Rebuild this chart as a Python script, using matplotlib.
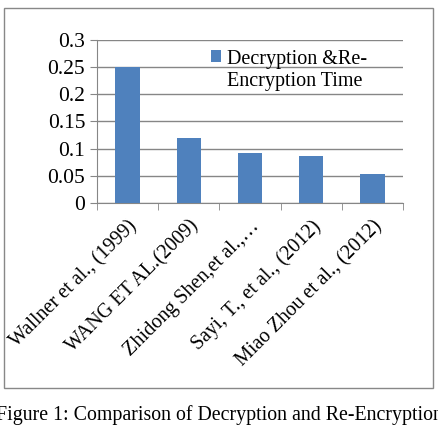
import numpy as np
import matplotlib.pyplot as plt
from matplotlib.patches import Rectangle
from matplotlib.container import BarContainer
from matplotlib.legend_handler import HandlerPatch

authors = ["Wallner et al., (1999)", "WANG ET AL.(2009)", "Zhidong Shen,et al.,\u2026",
           "Sayi, T., et al., (2012)", "Miao Zhou et al., (2012)"]
times = [0.25, 0.12, 0.092, 0.086, 0.054]
yticks = [0, 0.05, 0.1, 0.15, 0.2, 0.25, 0.3]
ytick_labels = ["0", "0.05", "0.1", "0.15", "0.2", "0.25", "0.3"]

plt.rcParams['font.family'] = ['Liberation Serif', 'DejaVu Serif']

fig = plt.figure(figsize=(4.39, 4.28), dpi=100)
fig.patches.append(Rectangle((0.009, 0.0935), 0.977, 0.888, transform=fig.transFigure,
                             fill=False, edgecolor='#888888', linewidth=1))

ax = fig.add_axes([0.221, 0.526, 0.697, 0.381])
x = np.arange(len(authors))
ax.bar(x, times, width=0.4, color='#4F81BD', label="Decryption &Re-\nEncryption Time", zorder=3)

ax.set_xlim(-0.5, len(authors) - 0.5)
ax.set_ylim(0, 0.3)
ax.set_yticks(yticks)
ax.set_yticklabels(ytick_labels, fontsize=15.5)
ax.yaxis.grid(True, color='#868686', linewidth=1, zorder=0)

ax.set_xticks(x)
ax.set_xticklabels(authors, rotation=45, ha='right', rotation_mode='anchor', fontsize=14.5)
ax.set_xticks(np.arange(len(authors) + 1) - 0.5, minor=True)
ax.tick_params(axis='x', which='major', length=0, pad=10)
ax.tick_params(axis='x', which='minor', length=5, color='#868686', direction='out')
ax.tick_params(axis='y', length=5, color='#868686', direction='out')

for s in ['top', 'right']:
    ax.spines[s].set_visible(False)
ax.spines['left'].set_color('#868686')
ax.spines['bottom'].set_color('#868686')


# put the legend square next to the first line of the label
def top_square(legend, orig_handle, xdescent, ydescent, width, height, fontsize):
    return Rectangle((-xdescent, -ydescent + fontsize * 0.72), width, height)


def first_bar(handle, orig):
    handle.update_from(orig.patches[0])


leg = ax.legend(loc='upper left', bbox_to_anchor=(0.345, 0.985), frameon=False, fontsize=14.5,
                handlelength=0.5, handleheight=0.5, handletextpad=0.3, borderaxespad=0,
                handler_map={BarContainer: HandlerPatch(patch_func=top_square,
                                                        update_func=first_bar)})
for t in leg.get_texts():
    t.set_linespacing(1.2)

fig.text(-0.008, 0.03, "Figure 1: Comparison of Decryption and Re-Encryption", fontsize=14.3,
         va='center', ha='left')

fig.savefig("out.png", dpi=100)
